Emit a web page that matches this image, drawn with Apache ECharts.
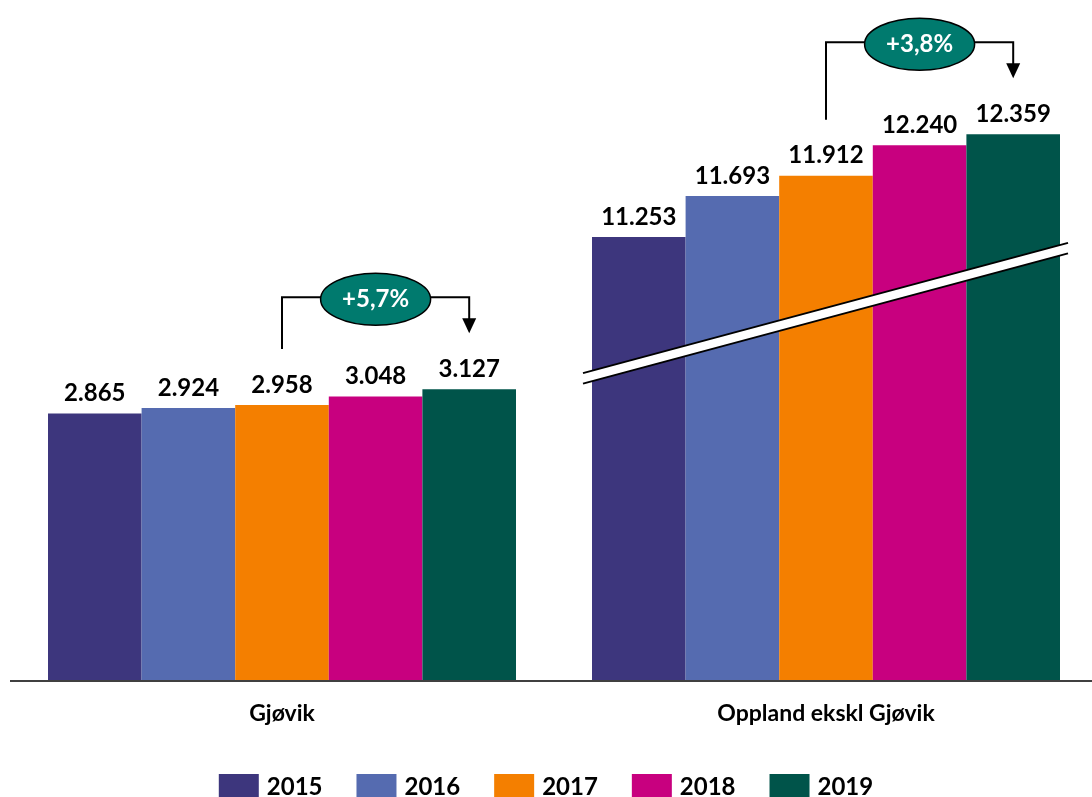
<!DOCTYPE html>
<html>
<head>
<meta charset="utf-8">
<script src="https://cdn.jsdelivr.net/npm/echarts@6/dist/echarts.min.js"></script>
<style>
  html, body { margin: 0; padding: 0; background: #fff; }
  #chart { width: 1092px; height: 797px; }
</style>
</head>
<body>
<div id="chart"></div>
<script>
// data
const years = ["2015", "2016", "2017", "2018", "2019"];
const regions = ["Gjøvik", "Oppland ekskl Gjøvik"];
const gjovik = [2865, 2924, 2958, 3048, 3127];
const oppland = [11253, 11693, 11912, 12240, 12359];
const growth = ["+5,7%", "+3,8%"];
const colors = ["#3d367d", "#556bb0", "#f47f00", "#c8007f", "#00544a"];

const FONT = "Lato";
const barW = 93.6;

// norsk tusenskille
const fmt = (v) => String(v).replace(/\B(?=(\d{3})+(?!\d))/g, ".");

const chart = echarts.init(document.getElementById("chart"));

const makeSeries = (values, g) =>
  years.map((y, i) => ({
    name: y,
    type: "bar",
    xAxisIndex: g,
    yAxisIndex: g,
    barWidth: barW,
    barGap: 0,
    data: [values[i]],
    itemStyle: { color: colors[i] },
    label: {
      show: true,
      position: "top",
      distance: 8,
      formatter: (p) => fmt(p.value),
      fontFamily: FONT,
      fontWeight: "bold",
      fontSize: 24,
      color: "#000",
    },
  }));

const xAxisBase = {
  type: "category",
  axisLine: { show: false },
  axisTick: { show: false },
  axisLabel: {
    fontFamily: FONT,
    fontWeight: "bold",
    fontSize: 23,
    color: "#000",
    margin: 22,
  },
};

const option = {
  animation: false,
  grid: [
    { left: 10, width: 544, top: 122, bottom: 117 },
    { left: 560, width: 532, top: 122, bottom: 117 },
  ],
  legend: {
    data: years,
    top: 769,
    left: "center",
    icon: "rect",
    itemWidth: 40,
    itemHeight: 27,
    itemGap: 34,
    textStyle: {
      fontFamily: FONT,
      fontWeight: "bold",
      fontSize: 24,
      color: "#000",
      padding: [0, 0, 0, 3],
    },
  },
  xAxis: [
    Object.assign({ gridIndex: 0, data: [regions[0]] }, xAxisBase),
    Object.assign({ gridIndex: 1, data: [regions[1]] }, xAxisBase),
  ],
  yAxis: [
    { gridIndex: 0, type: "value", min: 0, max: 6000, show: false, splitLine: { show: false } },
    // brutt akse for Oppland
    { gridIndex: 1, type: "value", min: 6490, max: 12490, show: false, splitLine: { show: false } },
  ],
  series: [...makeSeries(gjovik, 0), ...makeSeries(oppland, 1)],
};

chart.setOption(option);

// grunnlinje, piler, ellipser og brudd-markering
const buildGraphics = () => {
  const els = [];
  const base = chart.convertToPixel({ yAxisIndex: 0 }, 0);
  els.push({
    type: "line",
    shape: { x1: 10, y1: base + 1, x2: 1092, y2: base + 1 },
    style: { stroke: "#000", lineWidth: 1.5 },
    z: 5,
  });

  [gjovik, oppland].forEach((values, g) => {
    const cx = chart.convertToPixel({ xAxisIndex: g }, regions[g]);
    const yOf = (v) => chart.convertToPixel({ yAxisIndex: g }, v);
    const x1 = cx;
    const x2 = cx + 2 * barW;
    const yStart = yOf(values[2]) - 56;
    const yTop = yOf(values[4]) - 92;
    const tip = yOf(values[4]) - 56;
    els.push({
      type: "polyline",
      shape: { points: [[x1, yStart], [x1, yTop], [x2, yTop], [x2, tip - 14]] },
      style: { stroke: "#000", lineWidth: 2, fill: null },
      z: 10,
    });
    els.push({
      type: "polygon",
      shape: { points: [[x2 - 7, tip - 15], [x2 + 7, tip - 15], [x2, tip]] },
      style: { fill: "#000" },
      z: 10,
    });
    els.push({
      type: "ellipse",
      shape: { cx: (x1 + x2) / 2, cy: yTop + 2, rx: 55, ry: 26 },
      style: { fill: "#007a6e", stroke: "#000", lineWidth: 1.5 },
      z: 11,
    });
    els.push({
      type: "text",
      x: (x1 + x2) / 2,
      y: yTop + 2,
      style: {
        text: growth[g],
        fill: "#fff",
        font: "bold 24px " + FONT,
        align: "center",
        verticalAlign: "middle",
      },
      z: 12,
    });
  });

  // brudd over Oppland-stolpene
  const cx2 = chart.convertToPixel({ xAxisIndex: 1 }, regions[1]);
  const xl = cx2 - 2.5 * barW - 9;
  const xr = cx2 + 2.5 * barW + 8;
  const yl = chart.convertToPixel({ yAxisIndex: 1 }, 9790);
  const yr = chart.convertToPixel({ yAxisIndex: 1 }, 11190);
  const th = 10.5;
  els.push({
    type: "polygon",
    shape: { points: [[xl, yl], [xr, yr], [xr, yr + th], [xl, yl + th]] },
    style: { fill: "#fff" },
    z: 10,
  });
  els.push({
    type: "line",
    shape: { x1: xl, y1: yl, x2: xr, y2: yr },
    style: { stroke: "#000", lineWidth: 2 },
    z: 11,
  });
  els.push({
    type: "line",
    shape: { x1: xl, y1: yl + th, x2: xr, y2: yr + th },
    style: { stroke: "#000", lineWidth: 2 },
    z: 11,
  });
  return els;
};

chart.setOption({ graphic: buildGraphics() });

window.addEventListener("resize", () => chart.resize());
</script>
</body>
</html>
